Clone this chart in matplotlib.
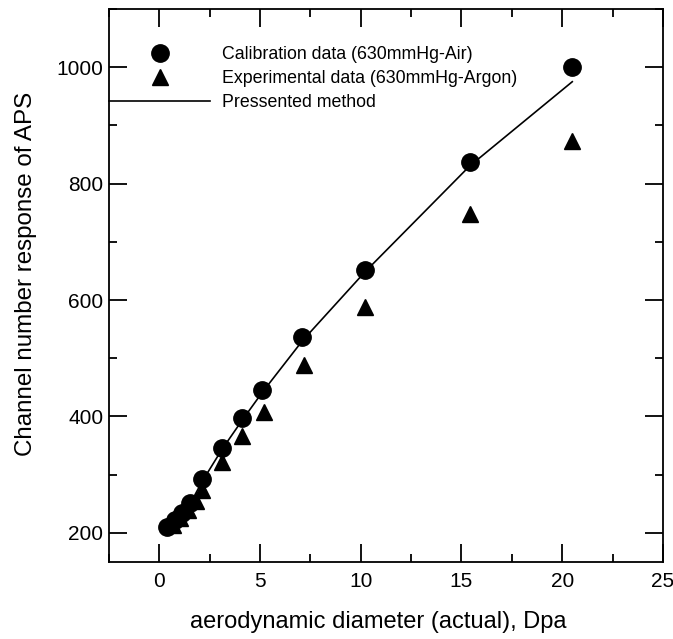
import matplotlib.pyplot as plt
from matplotlib.ticker import MultipleLocator

# calibration data (630mmHg-Air)
calib_d = [0.4, 0.8, 1.1, 1.5, 2.1, 3.1, 4.1, 5.1, 7.1, 10.2, 15.4, 20.5]
calib_ch = [210, 222, 235, 252, 292, 346, 397, 446, 536, 651, 837, 1000]

# experimental data (630mmHg-Argon)
exp_d = [0.7, 1.0, 1.4, 1.8, 2.1, 3.1, 4.1, 5.2, 7.2, 10.2, 15.4, 20.5]
exp_ch = [213, 225, 240, 255, 274, 322, 367, 408, 488, 588, 748, 874]

# presented method
model_d = [0.4, 0.8, 1.1, 1.5, 2.1, 3.1, 4.1, 5.1, 7.1, 10.2, 15.4, 20.5]
model_ch = [205, 218, 231, 248, 287, 343, 393, 441, 530, 648, 830, 975]

plt.rcParams['font.family'] = ['Liberation Sans', 'DejaVu Sans']

fig = plt.figure(figsize=(6.73, 6.39), dpi=100)
ax = fig.add_axes([0.162, 0.1205, 0.823, 0.8655])

ax.plot(calib_d, calib_ch, linestyle="none", marker="o", markersize=12.5,
        color="black", label="Calibration data (630mmHg-Air)")
ax.plot(exp_d, exp_ch, linestyle="none", marker="^", markersize=11,
        color="black", label="Experimental data (630mmHg-Argon)")
ax.plot(model_d, model_ch, linestyle="-", linewidth=1.2, color="black",
        label="Pressented method")

ax.set_xlim(-2.5, 25)
ax.set_ylim(150, 1100)
ax.xaxis.set_major_locator(MultipleLocator(5))
ax.xaxis.set_minor_locator(MultipleLocator(2.5))
ax.set_yticks([200, 400, 600, 800, 1000])
ax.yaxis.set_minor_locator(MultipleLocator(100))

ax.tick_params(which="both", direction="in", top=True, right=True, width=1.3,
               labelsize=15)
ax.tick_params(axis="x", which="major", pad=7)
ax.tick_params(axis="y", which="major", pad=4)
ax.tick_params(which="major", length=13)
ax.tick_params(which="minor", length=6)
for s in ax.spines.values():
    s.set_linewidth(1.3)

ax.set_xlabel("aerodynamic diameter (actual), Dpa", fontsize=17)
ax.set_ylabel("Channel number response of APS", fontsize=17.4)
ax.xaxis.set_label_coords(0.486, -0.089)
ax.yaxis.set_label_coords(-0.130, 0.521)

ax.legend(loc="upper left", bbox_to_anchor=(0.0, 0.933), frameon=False,
          fontsize=12.8, handlelength=5.7, handletextpad=0.65, labelspacing=0.4,
          borderaxespad=0, borderpad=0)

plt.savefig("out.png", dpi=100)
plt.close()
